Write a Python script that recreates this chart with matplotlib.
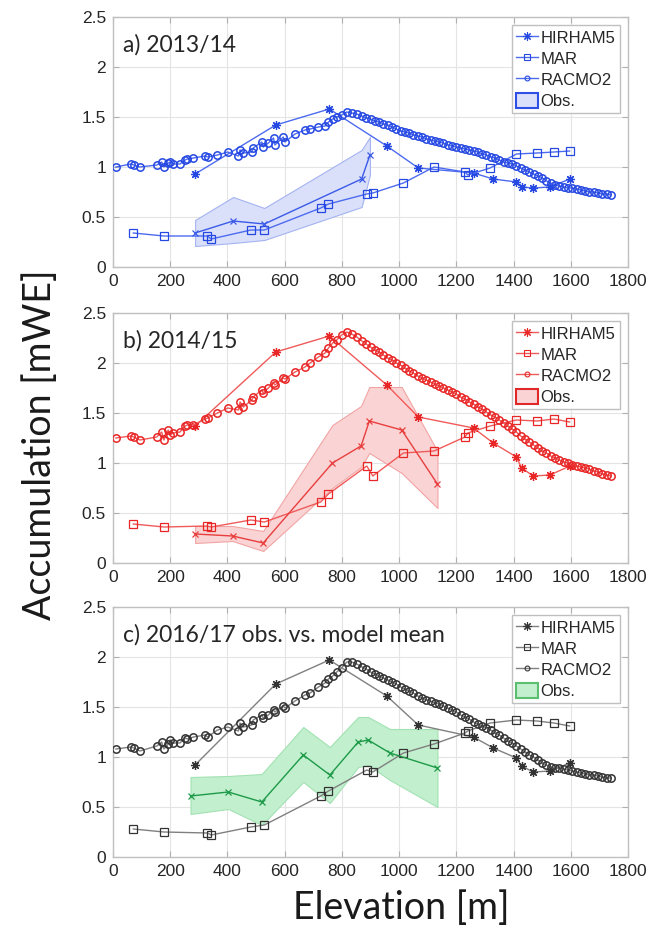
import matplotlib
matplotlib.use('Agg')
import matplotlib.pyplot as plt
from matplotlib.lines import Line2D
from matplotlib.patches import Patch

# elevations [m]
hirham_x = [287, 569, 756, 957, 1067, 1260, 1329, 1410, 1428, 1469, 1527, 1597]
mar_x = [71, 178, 330, 343, 482, 529, 726, 753, 887, 908, 1015, 1122, 1230, 1240, 1318, 1410, 1482, 1541, 1596]
racmo_x = [10, 62, 73, 94, 153, 170, 178, 193, 199, 211, 234, 252, 260, 281, 322, 331, 365, 401, 438, 444,
           456, 485, 490, 520, 525, 543, 561, 566, 595, 601, 636, 671, 689, 718, 741, 753, 768, 782, 799, 817,
           834, 852, 870, 885, 900, 915, 930, 945, 960, 975, 990, 1005, 1020, 1035, 1050, 1065, 1080, 1095,
           1110, 1125, 1140, 1155, 1170, 1185, 1200, 1215, 1230, 1245, 1260, 1275, 1290, 1305, 1320, 1335,
           1350, 1365, 1380, 1395, 1410, 1425, 1440, 1455, 1470, 1485, 1500, 1515, 1530, 1545, 1560, 1575,
           1590, 1605, 1620, 1635, 1650, 1665, 1680, 1695, 1710, 1725, 1740]

# a) 2013/14
hirham_a = [0.93, 1.42, 1.58, 1.21, 0.99, 0.94, 0.88, 0.85, 0.80, 0.79, 0.80, 0.88]
mar_a = [0.34, 0.31, 0.31, 0.28, 0.37, 0.37, 0.59, 0.63, 0.73, 0.74, 0.84, 1.00, 0.95, 0.92, 0.99, 1.13, 1.14, 1.15, 1.16]
racmo_a = [1.00, 1.03, 1.02, 1.00, 1.02, 1.05, 1.00, 1.04, 1.05, 1.03, 1.03, 1.07, 1.08, 1.09, 1.11, 1.10, 1.12, 1.15, 1.11, 1.17,
           1.14, 1.15, 1.19, 1.25, 1.20, 1.24, 1.29, 1.22, 1.30, 1.25, 1.33, 1.37, 1.38, 1.40, 1.41, 1.45, 1.48, 1.50, 1.52, 1.55,
           1.54, 1.53, 1.51, 1.49, 1.48, 1.46, 1.45, 1.43, 1.42, 1.40, 1.38, 1.36, 1.35, 1.34, 1.32, 1.31, 1.30, 1.28,
           1.27, 1.26, 1.25, 1.24, 1.22, 1.21, 1.20, 1.19, 1.18, 1.17, 1.16, 1.15, 1.13, 1.12, 1.10, 1.09,
           1.07, 1.05, 1.04, 1.03, 1.01, 0.99, 0.97, 0.95, 0.93, 0.91, 0.89, 0.86, 0.84, 0.82, 0.81, 0.80,
           0.79, 0.79, 0.78, 0.77, 0.76, 0.75, 0.75, 0.74, 0.73, 0.73, 0.72]
obs_x_a = [287, 420, 529, 869, 898]
obs_a = [0.34, 0.46, 0.43, 0.88, 1.12]
obs_lo_a = [0.21, 0.24, 0.27, 0.60, 0.92]
obs_hi_a = [0.47, 0.70, 0.59, 1.17, 1.30]

# b) 2014/15
hirham_b = [1.37, 2.11, 2.27, 1.78, 1.46, 1.35, 1.20, 1.06, 0.95, 0.87, 0.88, 0.97]
mar_b = [0.39, 0.36, 0.37, 0.36, 0.43, 0.41, 0.61, 0.69, 0.97, 0.87, 1.10, 1.12, 1.26, 1.30, 1.37, 1.43, 1.42, 1.44, 1.41]
racmo_b = [1.25, 1.27, 1.26, 1.23, 1.26, 1.31, 1.23, 1.33, 1.28, 1.30, 1.31, 1.37, 1.38, 1.38, 1.44, 1.45, 1.50, 1.55, 1.53, 1.61,
           1.56, 1.63, 1.66, 1.73, 1.70, 1.75, 1.80, 1.78, 1.85, 1.84, 1.91, 1.96, 2.00, 2.06, 2.10, 2.15, 2.20, 2.23, 2.28, 2.31,
           2.29, 2.26, 2.22, 2.19, 2.16, 2.13, 2.11, 2.08, 2.05, 2.03, 2.00, 1.98, 1.95, 1.92, 1.90, 1.87, 1.85, 1.83,
           1.81, 1.79, 1.77, 1.75, 1.73, 1.71, 1.69, 1.66, 1.64, 1.61, 1.59, 1.56, 1.54, 1.51, 1.48, 1.46,
           1.43, 1.40, 1.37, 1.34, 1.31, 1.27, 1.24, 1.21, 1.18, 1.15, 1.12, 1.10, 1.07, 1.05, 1.03, 1.01,
           1.00, 0.98, 0.97, 0.96, 0.95, 0.94, 0.92, 0.91, 0.89, 0.88, 0.87]
obs_x_b = [287, 418, 525, 767, 867, 896, 1009, 1134]
obs_b = [0.29, 0.27, 0.20, 1.00, 1.17, 1.42, 1.33, 0.79]
obs_lo_b = [0.20, 0.22, 0.12, 0.75, 0.96, 1.10, 0.90, 0.55]
obs_hi_b = [0.37, 0.37, 0.32, 1.38, 1.57, 1.76, 1.76, 1.12]

# c) 2016/17 obs. vs. model mean
hirham_c = [0.92, 1.73, 1.97, 1.61, 1.32, 1.20, 1.09, 0.99, 0.91, 0.85, 0.86, 0.94]
mar_c = [0.28, 0.25, 0.24, 0.22, 0.30, 0.32, 0.61, 0.66, 0.87, 0.85, 1.04, 1.13, 1.24, 1.26, 1.34, 1.37, 1.36, 1.34, 1.31]
racmo_c = [1.08, 1.10, 1.09, 1.06, 1.11, 1.15, 1.08, 1.13, 1.17, 1.14, 1.14, 1.19, 1.18, 1.20, 1.22, 1.20, 1.27, 1.30, 1.26, 1.34,
           1.30, 1.32, 1.37, 1.42, 1.39, 1.42, 1.47, 1.45, 1.51, 1.49, 1.56, 1.62, 1.64, 1.70, 1.74, 1.78, 1.81, 1.85, 1.89, 1.95,
           1.95, 1.93, 1.90, 1.88, 1.85, 1.83, 1.81, 1.79, 1.77, 1.75, 1.73, 1.70, 1.68, 1.66, 1.64, 1.61, 1.59, 1.57,
           1.56, 1.54, 1.53, 1.51, 1.49, 1.47, 1.45, 1.42, 1.40, 1.38, 1.35, 1.33, 1.31, 1.29, 1.27, 1.24,
           1.22, 1.19, 1.16, 1.14, 1.11, 1.08, 1.05, 1.02, 1.00, 0.97, 0.94, 0.92, 0.90, 0.89, 0.89, 0.88,
           0.87, 0.86, 0.85, 0.84, 0.83, 0.82, 0.82, 0.81, 0.80, 0.79, 0.79]
obs_x_c = [271, 403, 520, 665, 758, 857, 892, 968, 1134]
obs_c = [0.61, 0.65, 0.55, 1.02, 0.82, 1.15, 1.17, 1.04, 0.89]
obs_lo_c = [0.43, 0.48, 0.32, 0.75, 0.54, 0.90, 0.92, 0.77, 0.50]
obs_hi_c = [0.80, 0.81, 0.83, 1.30, 1.10, 1.40, 1.40, 1.28, 1.28]

x_ticks = [0, 200, 400, 600, 800, 1000, 1200, 1400, 1600, 1800]
y_ticks = [0, 0.5, 1, 1.5, 2, 2.5]
y_tick_labels = ['0', '0.5', '1', '1.5', '2', '2.5']
titles = ['a) 2013/14', 'b) 2014/15', 'c) 2016/17 obs. vs. model mean']

TICK_FONT = 'Liberation Sans'
TEXT_FONT = 'Lato'
STAR = (8, 2, 0)


def draw_panel(ax, title, line_c, mark_c, hir, mar, rac, ox, oy, olo, ohi,
               obs_c, fill_face, fill_edge, leg_edge):
    ax.fill_between(ox, olo, ohi, facecolor=fill_face, edgecolor=fill_edge, linewidth=0.8, zorder=1)
    ax.plot(ox, oy, color=obs_c, lw=1.0, marker='x', ms=5, mew=0.9, zorder=4)
    ax.plot(hirham_x, hir, color=line_c, lw=1.0, marker=STAR, ms=6.5, mec=mark_c, mew=0.9, zorder=3)
    ax.plot(mar_x, mar, color=line_c, lw=1.0, marker='s', ms=5.5, mfc='none', mec=mark_c, mew=0.9, zorder=3)
    ax.plot(racmo_x, rac, color=line_c, lw=1.0, marker='o', ms=5.3, mfc='none', mec=mark_c, mew=1.1, zorder=3)

    ax.set_xlim(0, 1800)
    ax.set_ylim(0, 2.5)
    ax.set_xticks(x_ticks)
    ax.set_yticks(y_ticks)
    ax.set_yticklabels(y_tick_labels)
    ax.grid(True, color='#e4e4e4', lw=0.8)
    ax.set_axisbelow(True)
    ax.tick_params(direction='in', top=True, right=True, length=4, color='#b0b0b0',
                   labelsize=12.5, labelcolor='#262626', pad=5)
    for lab in ax.get_xticklabels() + ax.get_yticklabels():
        lab.set_fontfamily(TICK_FONT)
    for sp in ax.spines.values():
        sp.set_color('#c0c0c0')
        sp.set_linewidth(1.0)

    ax.text(0.02, 0.93, title, transform=ax.transAxes, fontsize=16.5, family=TEXT_FONT,
            color='#262626', va='top', ha='left')

    handles = [Line2D([], [], color=line_c, lw=1.0, marker=STAR, ms=6, mec=mark_c, mew=0.8),
               Line2D([], [], color=line_c, lw=1.0, marker='s', ms=4.5, mfc='none', mec=mark_c, mew=0.8),
               Line2D([], [], color=line_c, lw=1.0, marker='o', ms=3.5, mfc='none', mec=mark_c, mew=0.8),
               Patch(facecolor=fill_face, edgecolor=leg_edge, linewidth=1.5)]
    leg = ax.legend(handles, ['HIRHAM5', 'MAR', 'RACMO2', 'Obs.'], loc='upper right',
                    prop={'family': TICK_FONT, 'size': 12}, fancybox=False, framealpha=1,
                    edgecolor='#c0c0c0', handlelength=1.3, handletextpad=0.15,
                    labelspacing=0.3, borderpad=0.25, borderaxespad=0.5, handleheight=1.0)
    leg.get_frame().set_linewidth(1.0)
    for t in leg.get_texts():
        t.set_color('#262626')


fig = plt.figure(figsize=(6.52, 9.36), dpi=100)
ax_w = 515 / 652
ax_h = 250 / 936
left = 113 / 652
axes = [fig.add_axes([left, 1 - 267 / 936, ax_w, ax_h]),
        fig.add_axes([left, 1 - 563 / 936, ax_w, ax_h]),
        fig.add_axes([left, 1 - 857 / 936, ax_w, ax_h])]

draw_panel(axes[0], titles[0], '#4d6bf0', '#2548e2', hirham_a, mar_a, racmo_a,
           obs_x_a, obs_a, obs_lo_a, obs_hi_a, '#3a5ae8', '#dae0fa', '#a4b3f2', '#2d4fe6')
draw_panel(axes[1], titles[1], '#f05a5a', '#e82626', hirham_b, mar_b, racmo_b,
           obs_x_b, obs_b, obs_lo_b, obs_hi_b, '#e83e3e', '#fad4d4', '#f2a4a4', '#e02828')
draw_panel(axes[2], titles[2], '#808080', '#333333', hirham_c, mar_c, racmo_c,
           obs_x_c, obs_c, obs_lo_c, obs_hi_c, '#1d9a48', '#c2efce', '#a2e2b2', '#5cbf70')

fig.text(40 / 652, 1 - 445 / 936, 'Accumulation [mWE]', rotation=90, ha='center', va='center',
         fontsize=27, family=TEXT_FONT, color='#1a1a1a')
fig.text(401 / 652, 1 - 908 / 936, 'Elevation [m]', ha='center', va='center',
         fontsize=27, family=TEXT_FONT, color='#1a1a1a')

plt.savefig('out.png', dpi=100)
